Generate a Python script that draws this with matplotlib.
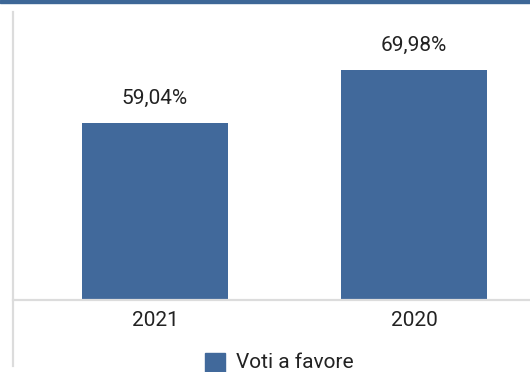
import matplotlib.pyplot as plt
from matplotlib.patches import Rectangle
from matplotlib.lines import Line2D

plt.rcParams['font.family'] = ['Roboto', 'DejaVu Sans']

years = ['2021', '2020']
votes_for = [59.04, 69.98]
value_labels = ['59,04%', '69,98%']
series_name = 'Voti a favore'

BLUE = '#41699b'
GRID = '#dcdcdc'
TEXT = '#222222'

W, H = 530, 372
fig = plt.figure(figsize=(W / 100, H / 100), dpi=100)

# axes box in pixels: left spine at x=13, baseline at y=300, top at y=12
left, right, top, base = 13, 530, 12, 300
ax = fig.add_axes([left / W, 1 - base / H, (right - left) / W, (base - top) / H])

x = range(len(years))
ax.bar(x, votes_for, width=0.564, color=BLUE, zorder=2)
ax.set_xlim(-0.548, 1.448)
ax.set_ylim(22.5, 81.9)

for xi, v, lab in zip(x, votes_for, value_labels):
    ax.annotate(lab, (xi, v), xytext=(0, 15), textcoords='offset pixels',
                ha='center', va='bottom', fontsize=15, color=TEXT)

ax.set_xticks(list(x))
ax.set_xticklabels(years, fontsize=15, color=TEXT)
ax.tick_params(axis='x', length=0, pad=8)
ax.set_yticks([])
for s in ['top', 'right', 'left']:
    ax.spines[s].set_visible(False)
ax.spines['bottom'].set_color(GRID)
ax.spines['bottom'].set_linewidth(1.6)

# thin band across the top, and the gray rule on the left
fig.patches.append(Rectangle((0, 1 - 3 / H), 1, 3 / H, transform=fig.transFigure,
                             color='#3d6797', zorder=5))
fig.lines.append(Line2D([left / W, left / W], [1 - top / H, 1 - 366 / H],
                        transform=fig.transFigure, color=GRID, linewidth=1.6))

# legend at the bottom edge
fig.patches.append(Rectangle((205 / W, 1 - 373 / H), 20 / W, 20 / H,
                             transform=fig.transFigure, color=BLUE))
fig.text(236 / W, 1 - 362 / H, series_name, fontsize=15, color=TEXT,
         ha='left', va='center')

fig.savefig('out.png', dpi=100)
